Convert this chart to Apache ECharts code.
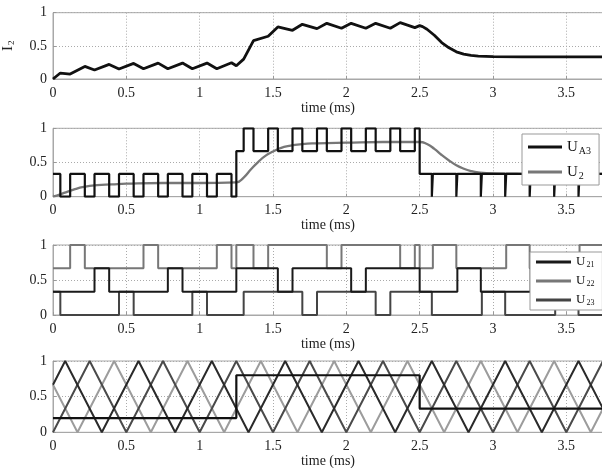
<!DOCTYPE html>
<html><head><meta charset="utf-8">
<script src="https://cdn.jsdelivr.net/npm/echarts@6/dist/echarts.min.js"></script>
<style>html,body{margin:0;padding:0;background:#fff}#c{width:602px;height:468px}</style>
</head><body><div id="c"></div>
<script>
// ---- data ----
const xTickStep = 0.5;           // time (ms) ticks: 0, 0.5, ... 3.5
const yTicks = [0, 0.5, 1];
// Panel 1: load current I2 (vertices)
const i2 = [[0,0],[0.05,0.09],[0.117,0.075],[0.217,0.19],[0.283,0.135],[0.383,0.22],[0.45,0.15],[0.55,0.235],[0.617,0.155],[0.717,0.24],[0.783,0.155],[0.883,0.24],[0.95,0.155],[1.05,0.24],[1.117,0.155],[1.217,0.245],[1.25,0.2],[1.30,0.3],[1.367,0.58],[1.467,0.645],[1.533,0.785],[1.633,0.735],[1.70,0.825],[1.80,0.76],[1.867,0.84],[1.967,0.765],[2.033,0.84],[2.133,0.765],[2.20,0.84],[2.30,0.765],[2.367,0.85],[2.467,0.775],[2.50,0.805],[2.52,0.79],[2.55,0.75],[2.6,0.66],[2.65,0.55],[2.7,0.47],[2.75,0.41],[2.8,0.375],[2.85,0.355],[2.9,0.345],[3.0,0.337],[3.2,0.334],[3.75,0.333]];
// Panel 2: UA3 switching levels [time from, level]
const ua3 = [[0,0.333],[0.05,0],[0.117,0.333],[0.217,0],[0.283,0.333],[0.383,0],[0.45,0.333],[0.55,0],[0.617,0.333],[0.717,0],[0.783,0.333],[0.883,0],[0.95,0.333],[1.05,0],[1.117,0.333],[1.217,0],[1.25,0.667],[1.30,1],[1.367,0.667],[1.467,1],[1.533,0.667],[1.633,1],[1.70,0.667],[1.80,1],[1.867,0.667],[1.967,1],[2.033,0.667],[2.133,1],[2.20,0.667],[2.30,1],[2.367,0.667],[2.467,1],[2.50,0.333],[2.583,0],[2.59,0.333],[2.75,0],[2.757,0.333],[2.917,0],[2.924,0.333],[3.083,0],[3.09,0.333],[3.25,0],[3.257,0.333],[3.417,0],[3.424,0.333],[3.583,0],[3.59,0.333],[3.75,0.333]];
// Panel 2: filtered voltage U2
const u2 = [[0,0],[0.05,0.035],[0.1,0.075],[0.15,0.11],[0.2,0.14],[0.3,0.17],[0.4,0.18],[0.5,0.19],[0.75,0.2],[1.0,0.2],[1.25,0.21],[1.3,0.28],[1.35,0.4],[1.4,0.51],[1.45,0.6],[1.5,0.66],[1.55,0.71],[1.6,0.74],[1.7,0.77],[1.8,0.78],[2.0,0.79],[2.25,0.8],[2.5,0.8],[2.55,0.77],[2.6,0.7],[2.65,0.61],[2.7,0.53],[2.75,0.46],[2.8,0.41],[2.85,0.375],[2.9,0.355],[3.0,0.34],[3.2,0.335],[3.75,0.333]];
// Panel 3: cell signals [time from, level]
const u21 = [[0,0.333],[0.283,0.667],[0.383,0.333],[0.783,0.667],[0.883,0.333],[1.25,0.667],[1.533,0.333],[1.633,0.667],[2.033,0.333],[2.133,0.667],[2.5,0.333],[2.757,0.667],[2.917,0.333],[3.257,0.667],[3.417,0.333],[3.75,0.333]];
const u22 = [[0,0.667],[0.117,1],[0.217,0.667],[0.617,1],[0.717,0.667],[1.117,1],[1.217,0.667],[1.25,1],[1.367,0.667],[1.467,1],[1.867,0.667],[1.967,1],[2.367,0.667],[2.467,1],[2.5,0.667],[2.59,1],[2.75,0.667],[3.09,1],[3.25,0.667],[3.59,1],[3.75,1]];
const u23 = [[0,0.333],[0.05,0],[0.45,0.333],[0.55,0],[0.95,0.333],[1.05,0],[1.30,0.333],[1.70,0],[1.80,0.333],[2.20,0],[2.30,0.333],[2.583,0],[2.924,0.333],[3.083,0],[3.424,0.333],[3.583,0],[3.75,0]];
// Panel 4: triangular carriers (vertices) and reference
const carrierA = [[0,0.667],[0.083,1],[0.333,0],[0.583,1],[0.833,0],[1.083,1],[1.333,0],[1.583,1],[1.833,0],[2.083,1],[2.333,0],[2.583,1],[2.833,0],[3.083,1],[3.333,0],[3.583,1],[3.75,0.333]];
const carrierB = [[0,0],[0.25,1],[0.5,0],[0.75,1],[1.0,0],[1.25,1],[1.5,0],[1.75,1],[2.0,0],[2.25,1],[2.5,0],[2.75,1],[3.0,0],[3.25,1],[3.5,0],[3.75,1]];
const carrierC = [[0,0.667],[0.167,0],[0.417,1],[0.667,0],[0.917,1],[1.167,0],[1.417,1],[1.667,0],[1.917,1],[2.167,0],[2.417,1],[2.667,0],[2.917,1],[3.167,0],[3.417,1],[3.667,0],[3.75,0.333]];
const reference = [[0,0.2],[1.25,0.8],[2.5,0.333],[3.75,0.333]];

// ---- chart ----
const FONT = 'Liberation Serif, Times New Roman, serif';
const gridTops = [12.7, 128.3, 245, 361];
const gridHeights = [66.3, 68.4, 70, 71.3];
const grids = gridTops.map((t,i)=>({left:53, top:t, width:550, height:gridHeights[i], show:true, borderColor:'#a8a8a8', borderWidth:1, containLabel:false, outerBoundsMode:'none'}));
const xAxes = grids.map((g,i)=>({
  type:'value', gridIndex:i, min:0, max:3.75, interval:xTickStep,
  axisLine:{show:true, onZero:false, lineStyle:{color:'#a8a8a8'}},
  axisTick:{show:true, inside:true, length:3, lineStyle:{color:'#999'}},
  axisLabel:{color:'#222', fontFamily:FONT, fontSize:14, margin:7, showMaxLabel:false},
  splitLine:{show:true, lineStyle:{color:'#aaa', type:[1,2], width:1}},
  name:'time (ms)', nameLocation:'middle', nameGap:22,
  nameTextStyle:{color:'#222', fontFamily:FONT, fontSize:14}
}));
const yAxes = grids.map((g,i)=>({
  type:'value', gridIndex:i, min:yTicks[0], max:yTicks[2], interval:yTicks[1]-yTicks[0],
  axisLine:{show:true, lineStyle:{color:'#a8a8a8'}},
  axisTick:{show:true, inside:true, length:3, lineStyle:{color:'#999'}},
  axisLabel:{color:'#222', fontFamily:FONT, fontSize:14, margin:6},
  splitLine:{show:true, lineStyle:{color:'#aaa', type:[1,2], width:1}}
}));
yAxes[0].name = '{a|I}{b|2}';
yAxes[0].nameLocation = 'middle';
yAxes[0].nameGap = 37;
yAxes[0].nameRotate = 90;
yAxes[0].nameTextStyle = {rich:{a:{fontFamily:FONT, fontSize:15, color:'#222'}, b:{fontFamily:FONT, fontSize:9, color:'#222', padding:[7,0,0,1]}}};

function ln(name, data, xi, color, width, step, smooth){
  return {name, type:'line', xAxisIndex:xi, yAxisIndex:xi, data, step:step||false, smooth:smooth||false,
    symbol:'none', showSymbol:false, lineStyle:{color, width}, itemStyle:{color}, z:3};
}
const subs = {UA3:'A3', U2:'2', U21:'21', U22:'22', U23:'23'};
const option = {
  animation:false,
  backgroundColor:'#fff',
  grid:grids, xAxis:xAxes, yAxis:yAxes,
  legend:[
    {data:['UA3','U2'], orient:'vertical', left:522, top:134, icon:'rect', itemWidth:34, itemHeight:3, itemGap:7,
     padding:[4,8,4,6], backgroundColor:'#fff', borderColor:'#999', borderWidth:1, borderRadius:0,
     formatter:n=>'{u|U}{s|'+subs[n]+'}',
     textStyle:{lineHeight:18, rich:{u:{fontFamily:FONT, fontSize:15, color:'#111'}, s:{fontFamily:FONT, fontSize:10, color:'#111', padding:[8,0,0,1]}}}},
    {data:['U21','U22','U23'], orient:'vertical', left:530, top:252, icon:'rect', itemWidth:35, itemHeight:3, itemGap:3,
     padding:[2,8,2,6], backgroundColor:'#fff', borderColor:'#999', borderWidth:1, borderRadius:0,
     formatter:n=>'{u|U}{s|'+subs[n]+'}',
     textStyle:{lineHeight:16, rich:{u:{fontFamily:FONT, fontSize:13, color:'#111'}, s:{fontFamily:FONT, fontSize:8, color:'#111', padding:[6,0,0,1]}}}}
  ],
  series:[
    ln('I2', i2, 0, '#111', 2.8),
    ln('U2', u2, 1, '#777', 2.3, false, true),
    ln('UA3', ua3, 1, '#111', 2.2, 'end'),
    ln('U22', u22, 2, '#777', 2, 'end'),
    ln('U23', u23, 2, '#444', 2, 'end'),
    ln('U21', u21, 2, '#1a1a1a', 2, 'end'),
    ln('cC', carrierC, 3, '#9c9c9c', 2),
    ln('cB', carrierB, 3, '#4a4a4a', 2),
    ln('cA', carrierA, 3, '#2a2a2a', 2),
    ln('ref', reference, 3, '#111', 2.2, 'end')
  ]
};
const chart = echarts.init(document.getElementById('c'), null, {renderer:'canvas'});
chart.setOption(option);
</script></body></html>
